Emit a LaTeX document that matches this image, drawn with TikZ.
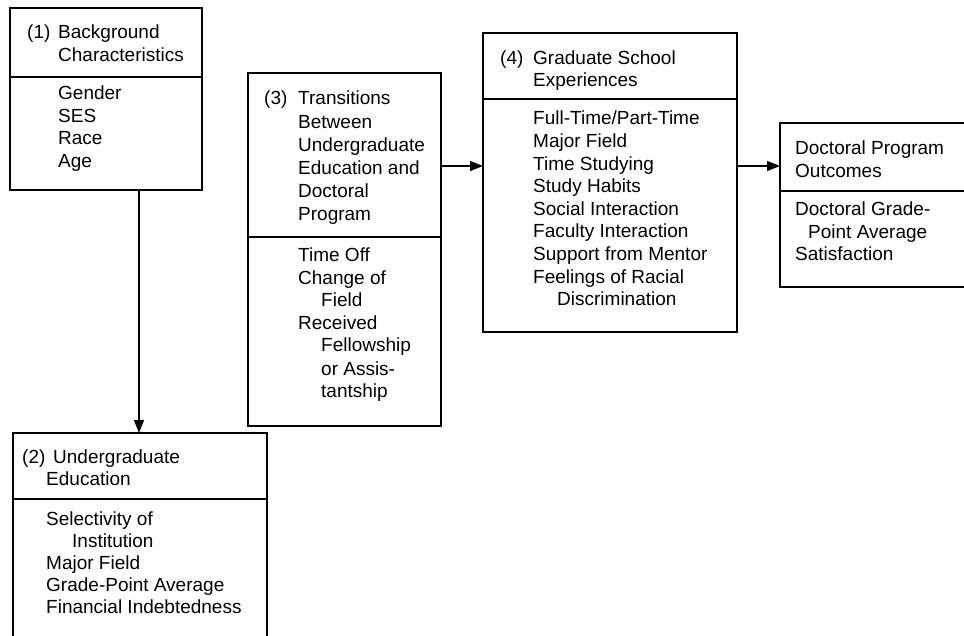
\documentclass[tikz,border=0pt]{standalone}
\usepackage{fontspec}
\setmainfont{Liberation Sans}
\usetikzlibrary{arrows.meta}
\begin{document}
\begin{tikzpicture}[x=1pt,y=-1pt,
  box/.style={draw,line width=1.4pt,anchor=north west,inner sep=0pt,outer sep=0pt},
  rule/.style={line width=1.4pt},
  txt/.style={anchor=base west,inner sep=0pt,font=\fontsize{19}{22}\selectfont},
  arr/.style={line width=1.4pt,-{Triangle[length=13pt,width=10pt]}}]
\clip (0,0) rectangle (964,636);
% boxes
\node[box,minimum width=192pt,minimum height=182pt] (b1) at (10,8) {};
\node[box,minimum width=254pt,minimum height=260pt] (b2) at (13,433) {};
\node[box,minimum width=193pt,minimum height=353pt] (b3) at (248,73) {};
\node[box,minimum width=254pt,minimum height=299pt] (b4) at (483,33) {};
\node[box,minimum width=250pt,minimum height=164pt] (b5) at (780,123) {};
% dividers
\draw[rule] (b1.west |- 0,77) -- (b1.east |- 0,77);
\draw[rule] (b2.west |- 0,499) -- (b2.east |- 0,499);
\draw[rule] (b3.west |- 0,237) -- (b3.east |- 0,237);
\draw[rule] (b4.west |- 0,99) -- (b4.east |- 0,99);
\draw[rule] (b5.west |- 0,191) -- (b5.east |- 0,191);
% connectors
\draw[arr] (b1.south -| 139,0) -- (b2.north -| 139,0);
\draw[arr] (b3.east |- 0,166) -- (b4.west |- 0,166);
\draw[arr] (b4.east |- 0,166) -- (b5.west |- 0,166);
% box 1
\node[txt] (n1) at (27,39) {(1)};
\node[txt] (t1a) at (58,39) {Background};
\node[txt] (t1b) at (58,62) {Characteristics};
\foreach \t [count=\i] in {Gender,SES,Race,Age}
  \node[txt,name=i1-\i] at (58,{100+22.5*(\i-1)}) {\t};
% box 2
\node[txt] (n2) at (22,463) {(2)};
\node[txt] (t2a) at (53,463) {Undergraduate};
\node[txt] (t2b) at (46,485) {Education};
\node[txt] (i2-1) at (46,525) {Selectivity of};
\node[txt] (i2-2) at (72,547) {Institution};
\node[txt] (i2-3) at (46,569) {Major Field};
\node[txt] (i2-4) at (46,591) {Grade-Point Average};
\node[txt] (i2-5) at (46,613) {Financial Indebtedness};
% box 3
\node[txt] (n3) at (264,105) {(3)};
\foreach \t [count=\i] in {Transitions,Between,Undergraduate,Education and,Doctoral,Program}
  \node[txt,name=t3-\i] at (298,{105+23.2*(\i-1)}) {\t};
\node[txt] (i3-1) at (298,262) {Time Off};
\node[txt] (i3-2) at (298,285) {Change of};
\node[txt] (i3-3) at (321,307) {Field};
\node[txt] (i3-4) at (298,330) {Received};
\node[txt] (i3-5) at (321,352) {Fellowship};
\node[txt] (i3-6) at (321,375) {or Assis-};
\node[txt] (i3-7) at (321,397) {tantship};
% box 4
\node[txt] (n4) at (500,65) {(4)};
\node[txt] (t4a) at (533,65) {Graduate School};
\node[txt] (t4b) at (533,87) {Experiences};
\foreach \t [count=\i] in {Full-Time/Part-Time,Major Field,Time Studying,Study Habits,Social Interaction,Faculty Interaction,Support from Mentor,Feelings of Racial}
  \node[txt,name=i4-\i] at (533,{125+22.6*(\i-1)}) {\t};
\node[txt] (i4-9) at (557,306) {Discrimination};
% box 5
\node[txt] (t5a) at (795,155) {Doctoral Program};
\node[txt] (t5b) at (795,178) {Outcomes};
\node[txt] (i5-1) at (795,216) {Doctoral Grade-};
\node[txt] (i5-2) at (808,238.5) {Point Average};
\node[txt] (i5-3) at (795,261) {Satisfaction};
\end{tikzpicture}
\end{document}
